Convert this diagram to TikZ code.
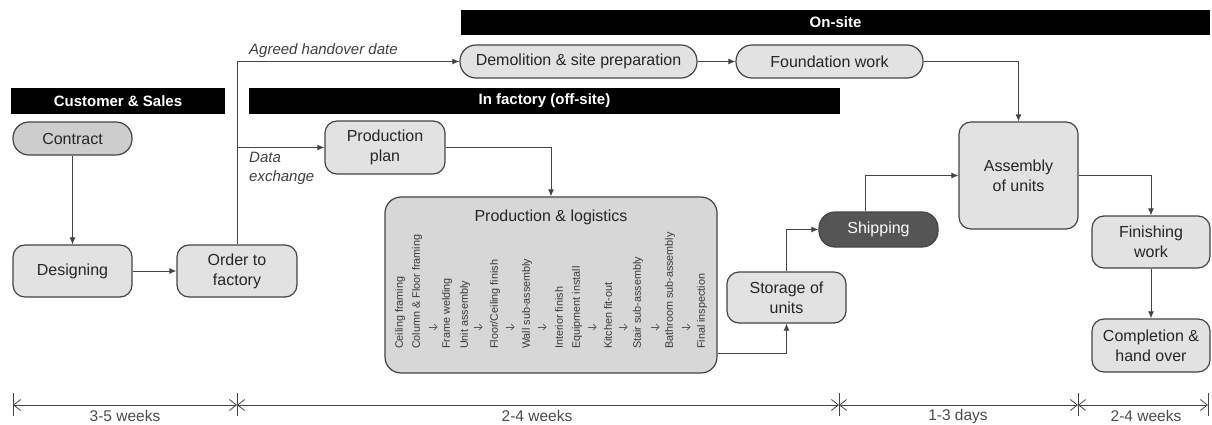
\documentclass[tikz,border=0pt]{standalone}
\usepackage{fontspec}
\setmainfont{Liberation Sans}
\usetikzlibrary{arrows.meta}
\definecolor{boxgray}{HTML}{E2E2E2}
\definecolor{contractgray}{HTML}{CDCDCD}
\definecolor{darkbox}{HTML}{555555}
\definecolor{linegray}{HTML}{444444}

\begin{document}
\begin{tikzpicture}[x=1pt,y=-1pt,
 box/.style={draw=linegray,line width=1.2pt,fill=boxgray,rounded corners=12pt,align=center,inner sep=0pt,text=black!85,font=\fontsize{16}{20}\selectfont},
 pill/.style={box,rounded corners=16pt},
 hdr/.style={fill=black,text=white,inner sep=0pt,font=\bfseries\fontsize{15}{18}\selectfont},
 conn/.style={draw=linegray,line width=1pt,-{Latex[length=7pt,width=6pt]}},
 span/.style={draw=linegray,line width=0.8pt,{Straight Barb[length=7pt,width=11pt]}-{Straight Barb[length=7pt,width=11pt]}},
 note/.style={text=black!75,align=left,inner sep=0pt,font=\itshape\fontsize{15}{19}\selectfont},
 steptext/.style={rotate=90,anchor=west,inner sep=0pt,text=black!78,font=\fontsize{10.8}{12}\selectfont},
 weeks/.style={text=black!70,font=\fontsize{15.5}{18}\selectfont}]
 \useasboundingbox (0,0) rectangle (1212,425);
 % phase headers
 \node[hdr,minimum width=214pt,minimum height=26pt] (hcust) at (118,101) {Customer \& Sales};
 \node[hdr,minimum width=591pt,minimum height=26pt] (hfact) at (544.5,101) {In factory (off-site)};
 \node[hdr,minimum width=749pt,minimum height=25pt] (hsite) at (835.5,22.5) {On-site};
 % customer & sales
 \node[pill,fill=contractgray,minimum width=119pt,minimum height=33pt] (contract) at (72.5,138.5) {Contract};
 \node[box,minimum width=119pt,minimum height=52pt] (design) at (72.5,271) {Designing};
 \node[box,minimum width=120pt,minimum height=52pt] (order) at (237,271) {Order to\\factory};
 % factory
 \node[box,minimum width=120pt,minimum height=53pt] (plan) at (385,147.5) {Production\\plan};
 \node[box,rounded corners=16pt,fill=boxgray!95!black,minimum width=332pt,minimum height=176pt] (prodlog) at (551,285) {};
 \node[font=\fontsize{16}{20}\selectfont,text=black!85] (pltitle) at (551,217) {Production \& logistics};
 \foreach \x/\t in {400/Ceiling framing,417/Column \& Floor framing,447/Frame welding,465/Unit assembly,495/{Floor/Ceiling finish},527/Wall sub-assembly,559/Interior finish,577/Equipment install,608/Kitchen fit-out,638/Stair sub-assembly,670/Bathroom sub-assembly,702/Final inspection}
  \node[steptext] at (\x,349) {\t};
 \foreach \x in {433,478,510,542,592,623,655,686}
  \draw[black!65,line width=0.7pt,-{Straight Barb[length=3pt,width=6pt]}] (\x-4.5,327) -- (\x+4.5,327);
 \node[box,minimum width=119pt,minimum height=51pt] (storage) at (786.5,297.5) {Storage of\\units};
 \node[pill,fill=darkbox,text=white,minimum width=119pt,minimum height=35pt] (ship) at (878.5,229.5) {Shipping};
 % on-site
 \node[pill,minimum width=237pt,minimum height=33pt] (demol) at (578.5,61.5) {Demolition \& site preparation};
 \node[pill,minimum width=187pt,minimum height=33pt] (found) at (829.5,61.5) {Foundation work};
 \node[box,minimum width=119pt,minimum height=107pt] (assem) at (1018.5,175.5) {Assembly\\of units};
 \node[box,minimum width=118pt,minimum height=52pt] (finish) at (1151,242) {Finishing\\work};
 \node[box,minimum width=118pt,minimum height=53pt] (complete) at (1151,345.5) {Completion \&\\hand over};
 % flow
 \draw[conn] (contract) -- (design);
 \draw[conn] (design) -- (order);
 \draw[conn] (order.north) |- (demol.west);
 \coordinate (fork) at (order.north |- plan.west);
 \draw[conn] (fork) -- (plan.west);
 \draw[conn] (plan.east) -| (prodlog.north);
 \draw[conn] (demol) -- (found);
 \draw[conn] (found.east) -| (assem.north);
 \draw[conn] ([yshift=-68pt]prodlog.east) -| (storage.south);
 \draw[conn] (storage.north) |- (ship.west);
 \draw[conn] ([xshift=-13.5pt]ship.north) |- (assem.west);
 \draw[conn] (assem.east) -| (finish.north);
 \draw[conn] (finish) -- (complete);
 \node[note,anchor=base west] (agreed) at (249,55) {Agreed handover date};
 \node[note,anchor=north west] (dataex) at (249,152) {Data\\exchange};
 % timeline
 \foreach \a/\b in {13/237,237/839,839/1078,1078/1208}
  \draw[span] (\a,405) -- (\b,405);
 \foreach \x in {13,237,839,1078,1208}
  \draw[linegray,line width=0.8pt] (\x,393) -- (\x,416);
 \node[weeks] (w1) at (125,416) {3-5 weeks};
 \node[weeks] (w2) at (537,416) {2-4 weeks};
 \node[weeks] (w3) at (958,416) {1-3 days};
 \node[weeks] (w4) at (1146,416) {2-4 weeks};
\end{tikzpicture}
\end{document}
